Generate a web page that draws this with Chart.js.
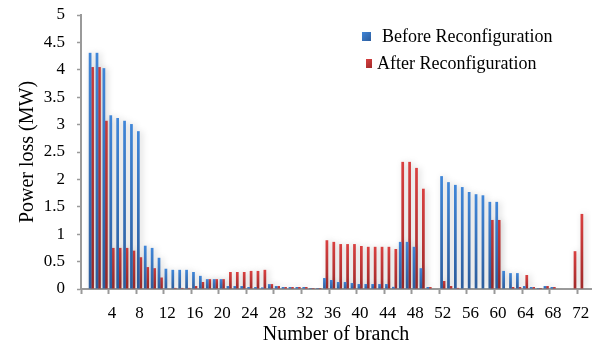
<!DOCTYPE html>
<html>
<head>
<meta charset="utf-8">
<script src="https://cdn.jsdelivr.net/npm/chart.js@4/dist/chart.umd.min.js"></script>
<style>
  html, body { margin: 0; padding: 0; background: #ffffff; }
  #c { display: block; }
</style>
</head>
<body>
<canvas id="c" width="599" height="347"></canvas>
<script>
// ---- Data ----
const categories = ['', '1', '2', '3', '4', '5', '6', '7', '8', '9', '10',
  '11', '12', '13', '14', '15', '16', '17', '18', '19', '20',
  '21', '22', '23', '24', '25', '26', '27', '28', '29', '30',
  '31', '32', '33', '34', '35', '36', '37', '38', '39', '40',
  '41', '42', '43', '44', '45', '46', '47', '48', '49', '50',
  '51', '52', '53', '54', '55', '56', '57', '58', '59', '60',
  '61', '62', '63', '64', '65', '66', '67', '68', '69', '70',
  '71', '72', ''];

const seriesNames = ['Before Reconfiguration', 'After Reconfiguration'];

const beforeLoss = [null,
  4.31, 4.31, 4.03, 3.17, 3.12, 3.07, 3.01, 2.88, 0.79, 0.75,
  0.57, 0.37, 0.35, 0.35, 0.35, 0.31, 0.24, 0.18, 0.18, 0.18,
  0.055, 0.055, 0.055, 0.036, 0.036, 0.03, 0.09, 0.055, 0.036, 0.036,
  0.036, 0.036, 0.018, 0.018, 0.20, 0.164, 0.128, 0.128, 0.11, 0.091,
  0.091, 0.091, 0.091, 0.091, 0.04, 0.86, 0.86, 0.77, 0.38, 0.036,
  0, 2.06, 1.95, 1.90, 1.86, 1.77, 1.73, 1.71, 1.59, 1.59,
  0.33, 0.29, 0.29, 0.055, 0.036, 0.018, 0.055, 0.036, 0, 0,
  0, 0, null];

const afterLoss = [null,
  4.05, 4.05, 3.07, 0.75, 0.75, 0.75, 0.70, 0.58, 0.40, 0.38,
  0.21, 0.01, 0.02, 0.02, 0.02, 0.055, 0.128, 0.18, 0.18, 0.18,
  0.31, 0.31, 0.31, 0.33, 0.33, 0.35, 0.09, 0.055, 0.036, 0.036,
  0.036, 0.036, 0.018, 0.018, 0.89, 0.86, 0.82, 0.82, 0.82, 0.785,
  0.77, 0.77, 0.77, 0.77, 0.73, 2.32, 2.32, 2.21, 1.83, 0.036,
  0, 0.146, 0.055, 0.02, 0.01, 0.01, 0, 0, 1.26, 1.26,
  0, 0.036, 0.036, 0.255, 0.036, 0.018, 0.055, 0.036, 0, 0,
  0.69, 1.37, null];

const yTickMin = 0, yTickMax = 5, yTickStep = 0.5;
const xLabelEvery = 4;

// ---- Styles ----
const FONT = "'Liberation Serif', 'Times New Roman', serif";
const AXIS_GRAY = '#9a9a9a';
const BLUE_TOP = '#4086d8', BLUE_BOT = '#2c5c9c';
const RED_TOP = '#d94040', RED_BOT = '#a02a2a';

function barFill(top, bottom) {
  return (c) => {
    const chart = c.chart;
    if (!chart.chartArea || c.type !== 'data' || !c.parsed) return top;
    const ys = chart.scales.y;
    const yTop = ys.getPixelForValue(c.parsed.y || 0);
    const yBot = ys.getPixelForValue(0);
    if (yBot - yTop < 1) return bottom;
    const g = chart.ctx.createLinearGradient(0, yTop, 0, yBot);
    g.addColorStop(0, top);
    g.addColorStop(1, bottom);
    return g;
  };
}

const shadowPlugin = {
  id: 'barShadow',
  beforeDatasetsDraw(chart) {
    const ctx = chart.ctx;
    ctx.save();
    ctx.shadowColor = 'rgba(0,0,0,0.20)';
    ctx.shadowBlur = 6;
    ctx.shadowOffsetX = 2;
    ctx.shadowOffsetY = 0;
  },
  afterDatasetsDraw(chart) {
    chart.ctx.restore();
  }
};

// Legend drawn inside the plot (top right), from the dataset labels/colours
const innerLegend = {
  id: 'innerLegend',
  afterDraw(chart) {
    const ctx = chart.ctx;
    const items = [
      { box: [362, 32, 9, 9], textX: 382, textY: 37 },
      { box: [366, 59, 6, 9], textX: 377, textY: 64 }
    ];
    const colors = [[BLUE_TOP, BLUE_BOT], [RED_TOP, RED_BOT]];
    ctx.save();
    chart.data.datasets.forEach((ds, i) => {
      const it = items[i];
      const [bx, by, bw, bh] = it.box;
      const g = ctx.createLinearGradient(bx, by, bx + bw, by + bh);
      g.addColorStop(0, colors[i][0]);
      g.addColorStop(1, colors[i][1]);
      ctx.fillStyle = g;
      ctx.fillRect(bx, by, bw, bh);
      ctx.fillStyle = '#000000';
      ctx.font = '18px ' + FONT;
      ctx.textAlign = 'left';
      ctx.textBaseline = 'middle';
      ctx.fillText(ds.label, it.textX, it.textY);
    });
    ctx.restore();
  }
};

new Chart(document.getElementById('c'), {
  type: 'bar',
  data: {
    labels: categories,
    datasets: [
      {
        label: seriesNames[0],
        data: beforeLoss,
        backgroundColor: barFill(BLUE_TOP, BLUE_BOT),
        borderWidth: 0,
        categoryPercentage: 0.72,
        barPercentage: 1.1
      },
      {
        label: seriesNames[1],
        data: afterLoss,
        backgroundColor: barFill(RED_TOP, RED_BOT),
        borderWidth: 0,
        categoryPercentage: 0.72,
        barPercentage: 1.1
      }
    ]
  },
  options: {
    responsive: false,
    devicePixelRatio: 1,
    animation: false,
    layout: { padding: { left: 0, right: 8, top: 15, bottom: 0 } },
    plugins: {
      legend: { display: false },
      tooltip: { enabled: false }
    },
    scales: {
      x: {
        type: 'category',
        offset: true,
        afterFit(s) { s.height = 58; },
        border: { display: true, color: AXIS_GRAY, width: 2 },
        grid: {
          display: true,
          offset: true,
          drawOnChartArea: false,
          drawTicks: true,
          tickLength: 5,
          tickWidth: 2,
          tickColor: (c) => (c.index % xLabelEvery === 0 ? AXIS_GRAY : 'rgba(0,0,0,0)')
        },
        ticks: {
          autoSkip: false,
          maxRotation: 0,
          minRotation: 0,
          padding: 9,
          color: '#000000',
          font: { family: FONT, size: 17 },
          callback: (value, index) =>
            (index % xLabelEvery === 0 && categories[index] !== '' ? categories[index] : '')
        },
        title: {
          display: true,
          text: 'Number of branch',
          color: '#000000',
          font: { family: FONT, size: 20 },
          padding: { top: 0, bottom: 0 }
        }
      },
      y: {
        min: yTickMin,
        max: yTickMax,
        afterFit(s) { s.width = 81; s.paddingTop = 6; s.paddingBottom = 6; },
        border: { display: true, color: AXIS_GRAY, width: 2 },
        grid: {
          display: true,
          drawOnChartArea: false,
          drawTicks: true,
          tickLength: 4,
          tickWidth: 1.5,
          tickColor: AXIS_GRAY
        },
        ticks: {
          stepSize: yTickStep,
          padding: 12,
          color: '#000000',
          font: { family: FONT, size: 17 },
          callback: (value) => String(Math.round(value * 10) / 10)
        },
        title: {
          display: true,
          text: 'Power loss (MW)',
          color: '#000000',
          font: { family: FONT, size: 20 },
          padding: { top: 16, bottom: 0 }
        }
      }
    }
  },
  plugins: [shadowPlugin, innerLegend]
});
</script>
</body>
</html>
